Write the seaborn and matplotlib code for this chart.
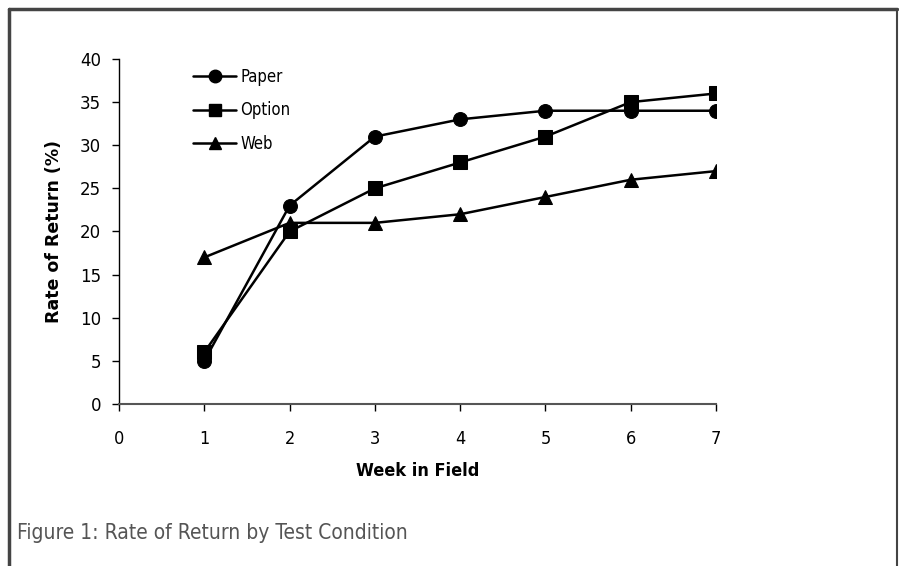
import matplotlib
matplotlib.use("Agg")
import matplotlib.pyplot as plt
import pandas as pd
import seaborn as sns
from matplotlib.lines import Line2D

weeks = [1, 2, 3, 4, 5, 6, 7]
paper = [5, 23, 31, 33, 34, 34, 34]
option = [6, 20, 25, 28, 31, 35, 36]
web = [17, 21, 21, 22, 24, 26, 27]
conditions = ["Paper", "Option", "Web"]
x_ticks = [0, 1, 2, 3, 4, 5, 6, 7]
y_ticks = [0, 5, 10, 15, 20, 25, 30, 35, 40]

df = pd.DataFrame({
    "week": weeks * 3,
    "rate": paper + option + web,
    "condition": [c for c in conditions for _ in weeks],
})

sns.set_style("white")
plt.rcParams["font.family"] = ["DejaVu Sans"]
plt.rcParams["text.color"] = "black"
narrow = "condensed"

fig = plt.figure(figsize=(8.99, 5.66), dpi=100)
ax = fig.add_axes([0.1324, 0.2862, 0.664, 0.6096])

markers = {"Paper": "o", "Option": "s", "Web": "^"}
sns.lineplot(data=df, x="week", y="rate", style="condition", markers=markers,
             dashes=False, color="black", markersize=10, linewidth=1.8,
             markeredgecolor="black", ax=ax, legend=False)

ax.set_xlim(0, 7)
ax.set_ylim(0, 40)
ax.set_xticks(x_ticks)
ax.set_yticks(y_ticks)
ax.set_xticklabels([str(t) for t in x_ticks], fontstretch=narrow, fontsize=13,
                   color="black")
ax.set_yticklabels([str(t) for t in y_ticks], fontsize=12, color="black")
ax.tick_params(axis="both", direction="out", length=5, width=1, color="black",
               bottom=True, left=True)
ax.tick_params(axis="x", pad=14)
ax.tick_params(axis="y", pad=8)
for side in ["top", "right"]:
    ax.spines[side].set_visible(False)
ax.spines["left"].set_color("black")
ax.spines["bottom"].set_color("#555555")
ax.spines["left"].set_linewidth(1)
ax.spines["bottom"].set_linewidth(1.5)

ax.set_xlabel("Week in Field", fontstretch=narrow, fontsize=13,
              fontweight="bold", color="black", labelpad=10)
ax.set_ylabel("Rate of Return (%)", fontsize=12.5, fontweight="bold", color="black",
              labelpad=12)

handles = [Line2D([], [], color="black", marker=markers[c], markersize=9, linewidth=1.8)
           for c in conditions]
ax.legend(handles, conditions, loc="upper left", bbox_to_anchor=(0.124, 0.975),
          frameon=False, handlelength=2.6, handletextpad=0.25, labelspacing=0.95,
          borderpad=0, borderaxespad=0,
          prop={"stretch": narrow, "size": 12})

fig.text(0.019, 0.058, "Figure 1: Rate of Return by Test Condition",
         fontstretch=narrow, fontsize=15, color="#555555", ha="left", va="center")

# border lines (top, left, right)
fig.add_artist(Line2D([0.0105, 0.998], [0.984, 0.984], color="#444444", linewidth=2.5))
fig.add_artist(Line2D([0.0105, 0.0105], [0.0, 0.984], color="#444444", linewidth=2.5))
fig.add_artist(Line2D([0.998, 0.998], [0.0, 0.984], color="#444444", linewidth=1.5))

fig.savefig("out.png", dpi=100)
